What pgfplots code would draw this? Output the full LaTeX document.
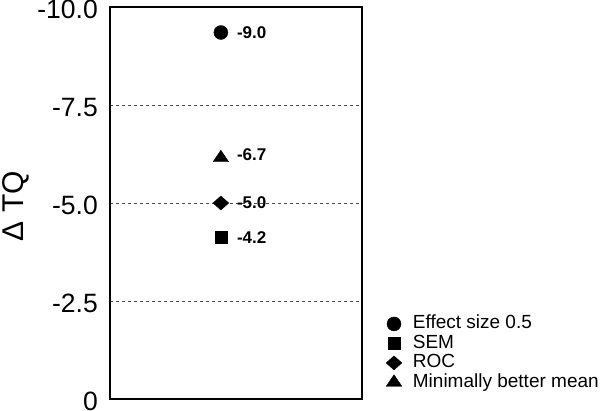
\documentclass[border=0pt]{standalone}
\usepackage{fontspec}
\setmainfont{Liberation Sans}
\usepackage{pgfplots}
\pgfplotsset{compat=1.18}
\begin{document}
\begin{tikzpicture}[x=1pt,y=1pt]
\path[use as bounding box] (0,0) rectangle (600,410);
\begin{axis}[
  at={(110pt,11pt)}, anchor=south west,
  scale only axis, width=252pt, height=392pt,
  xmin=0, xmax=1, ymin=-10, ymax=0, y dir=reverse,
  xtick=\empty,
  ytick={-10,-7.5,-5,-2.5,0},
  yticklabels={-10.0,-7.5,-5.0,-2.5,0},
  yticklabel style={font=\fontsize{26.5}{26.5}\selectfont, anchor=east, inner sep=0pt, xshift=-12pt, yshift=-2.5pt},
  major tick length=0pt,
  ymajorgrids, grid style={dashed, black!70, line width=0.5pt},
  axis line style={line width=1.4pt},
  ylabel={Δ TQ},
  ylabel style={at={(axis description cs:-0.375,0.492)}, anchor=center,
    font=\fontsize{30}{30}\selectfont},
  clip=false,
  point meta=explicit symbolic,
  nodes near coords,
  nodes near coords style={anchor=west, inner sep=0pt, xshift=16pt, font=\fontsize{17}{17}\selectfont\bfseries},
  legend style={at={(rel axis cs:1.095,0.215)}, anchor=north west, draw=none,
    font=\fontsize{19}{19}\selectfont, row sep=1.5pt, inner sep=0pt,
    nodes={inner xsep=2pt, inner ysep=0pt, text height=14pt, text depth=4pt},
    /tikz/every odd column/.append style={column sep=9pt}},
  legend cell align=left,
]
\addplot[only marks, mark=*, mark size=7, black] coordinates {(0.44,-9.35) [-9.0]};
\addplot[only marks, mark=square*, mark size=6, black] coordinates {(0.44,-4.13) [-4.2]};
\addplot[only marks, mark=diamond*, mark size=7, mark options={xscale=1.5}, black] coordinates {(0.44,-5.0) [-5.0]};
\addplot[only marks, mark=triangle*, mark size=9, mark options={yscale=0.85}, black,
  nodes near coords style={yshift=3pt}] coordinates {(0.44,-6.15) [-6.7]};
\legend{Effect size 0.5, SEM, ROC, Minimally better mean}
\end{axis}
\end{tikzpicture}
\end{document}
